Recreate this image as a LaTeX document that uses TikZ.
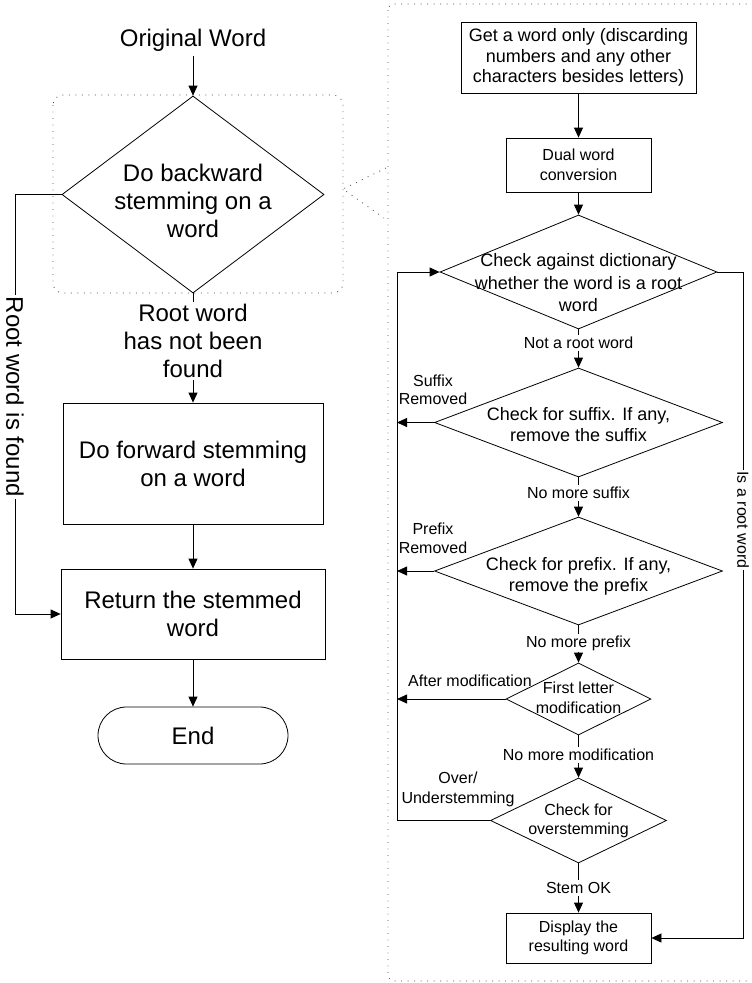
\documentclass[tikz,border=0pt]{standalone}
\usepackage{fontspec}
\setmainfont{Liberation Sans}
\usetikzlibrary{arrows.meta,shapes.geometric}
\begin{document}
\begin{tikzpicture}[x=1pt,y=-1pt,
  line width=0.8pt,
  >={Triangle[length=10pt,width=9pt]},
  fbox/.style={draw, rectangle, inner sep=0pt},
  dia/.style={draw, diamond, inner sep=0pt},
  tbig/.style={font=\fontsize{24}{28}\selectfont, align=center, inner sep=0pt},
  tmid/.style={font=\fontsize{18}{21}\selectfont, align=center, inner sep=0pt},
  tsmall/.style={font=\fontsize{16}{19.5}\selectfont, align=center, inner sep=0pt},
  lab/.style={fill=white, inner sep=2pt},
  grp/.style={draw=black!70, line width=0.8pt, dash pattern=on 0.9pt off 5.6pt, rounded corners=10pt},
  dotl/.style={draw=black!70, line width=0.8pt, dash pattern=on 0.9pt off 5.6pt},
]
\clip (0,0) rectangle (752,983);
\fill[white] (0,0) rectangle (752,983);

% group boxes
\draw[grp] (53,95) rectangle (343,293);
\draw[grp, rounded corners=6pt] (388,4) rectangle (790,981);
\coordinate (g0) at (343,189);
\coordinate (g1) at (386,168);
\coordinate (g2) at (384,218);
\draw[dotl] (g1) -- (g0) -- (g2);

% ---------------- left column
\node[tbig] (orig) at (193,40) {Original Word};
\node[dia, minimum width=262pt, minimum height=197pt] (d0) at (193,194.5) {};
\node[tbig] (d0t) at (193,201) {Do backward\\stemming on a\\word};
\node[fbox, tbig, minimum width=260pt, minimum height=121pt] (fwd) at (193,463.5) {Do forward stemming\\on a word};
\node[fbox, tbig, minimum width=264pt, minimum height=90pt] (ret) at (193,614) {Return the stemmed\\word};
\node[draw, tbig, rounded corners=28.5pt, minimum width=190pt, minimum height=57pt] (end) at (193,735.5) {End};

\draw[->, shorten <=4pt] (orig.south) -- (d0.north);
\draw[->] (d0.south) -- (fwd.north);
\draw[->] (fwd.south) -- (ret.north);
\draw[->] (ret.south) -- (end.north);
\coordinate (lA) at (15,194.5);
\coordinate (lB) at (15,614);
\draw[->] (d0.west) -- (lA) -- (lB) -- (ret.west);

\node[tbig, lab] (l0) at (193,341) {Root word\\has not been\\found};
\node[tbig, lab, rotate=-90] (l1) at (15,397) {Root word is found};

% ---------------- right column
\node[fbox, tmid, font=\fontsize{18}{20.5}\selectfont, minimum width=235pt, minimum height=71pt] (get) at (578.5,57.5) {Get a word only (discarding\\numbers and any other\\characters besides letters)};
\node[fbox, tsmall, minimum width=145pt, minimum height=54pt] (dual) at (578.5,165) {Dual word\\conversion};
\node[dia, minimum width=277pt, minimum height=114pt] (d1) at (578.5,272) {};
\node[tmid, font=\fontsize{18}{22.5}\selectfont] (d1t) at (578.5,283) {Check against dictionary\\whether the word is a root\\word};
\node[dia, minimum width=288pt, minimum height=109pt] (d2) at (578.5,422.5) {};
\node[tmid] (d2t) at (578.5,425) {Check for suffix. If any,\\remove the suffix};
\node[dia, minimum width=288pt, minimum height=108pt] (d3) at (578.5,571) {};
\node[tmid] (d3t) at (578.5,576) {Check for prefix. If any,\\remove the prefix};
\node[dia, minimum width=145pt, minimum height=72pt] (d4) at (578.5,699) {};
\node[tsmall] (d4t) at (578.5,698) {First letter\\modification};
\node[dia, minimum width=176pt, minimum height=85pt] (d5) at (578.5,820.5) {};
\node[tsmall] (d5t) at (578.5,821) {Check for\\overstemming};
\node[fbox, tsmall, minimum width=145pt, minimum height=50pt] (disp) at (578.5,938) {Display the\\resulting word};

\draw[->] (get.south) -- (dual.north);
\draw[->] (dual.south) -- (d1.north);
\draw[->] (d1.south) -- (d2.north);
\draw[->] (d2.south) -- (d3.north);
\draw[->] (d3.south) -- (d4.north);
\draw[->] (d4.south) -- (d5.north);
\draw[->] (d5.south) -- (disp.north);

\coordinate (L1) at (397,272);
\coordinate (L2) at (397,422.5);
\coordinate (L3) at (397,571);
\coordinate (L4) at (397,699);
\coordinate (L5) at (397,820.5);
\draw[->] (d2.west) -- (L2);
\draw[->] (d3.west) -- (L3);
\draw[->] (d4.west) -- (L4);
\draw[->] (d5.west) -- (L5) -- (L1) -- (d1.west);
\coordinate (R1) at (743,272);
\coordinate (R2) at (743,938);
\draw[->] (d1.east) -- (R1) -- (R2) -- (disp.east);

\node[tsmall, lab] (n1) at (578.5,343) {Not a root word};
\node[tsmall, lab] (n2) at (578.5,493) {No more suffix};
\node[tsmall, lab] (n3) at (578.5,643) {No more prefix};
\node[tsmall, lab] (n4) at (578.5,755) {No more modification};
\node[tsmall, lab] (n5) at (578.5,888) {Stem OK};
\node[tsmall, font=\fontsize{16}{18.5}\selectfont] (s1) at (433,390) {Suffix\\Removed};
\node[tsmall, font=\fontsize{16}{18.5}\selectfont] (s2) at (433,538.5) {Prefix\\Removed};
\node[tsmall] (s3) at (470,681) {After modification};
\node[tsmall] (s4) at (458,789.5) {Over/\\Understemming};
\node[tsmall, lab, rotate=-90] (s5) at (743,520) {Is a root word};
\end{tikzpicture}
\end{document}
